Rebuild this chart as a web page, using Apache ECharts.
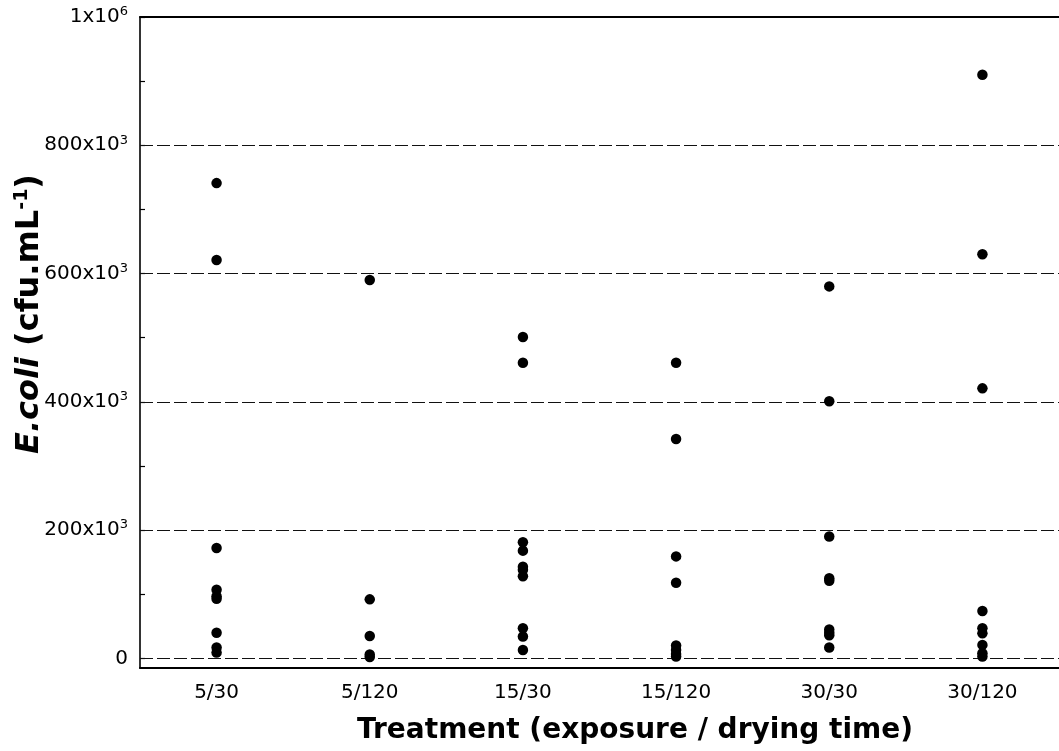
<!DOCTYPE html>
<html>
<head>
<meta charset="utf-8">
<script src="https://cdn.jsdelivr.net/npm/echarts@6/dist/echarts.min.js"></script>
<style>html,body{margin:0;padding:0;background:#fff}#c{width:1059px;height:751px}</style>
</head>
<body>
<div id="c"></div>
<script>
var categories = ['5/30', '5/120', '15/30', '15/120', '30/30', '30/120'];
var t5_30   = [741000, 621000, 172000, 107000, 97000, 93000, 40000, 17000, 9000];
var t5_120  = [590000, 92000, 35000, 6000, 2000];
var t15_30  = [501000, 461000, 181000, 168000, 143000, 138000, 128000, 47000, 34000, 13000];
var t15_120 = [461000, 342000, 159000, 118000, 20000, 13000, 7000, 3000];
var t30_30  = [580000, 401000, 190000, 125000, 121000, 45000, 40000, 36000, 17000];
var t30_120 = [910000, 630000, 421000, 74000, 47000, 39000, 21000, 8000, 3000];
var yLabelValues = [0, 200000, 400000, 600000, 800000, 1000000];
var yTickValues = [0, 100000, 200000, 300000, 400000, 500000, 600000, 700000, 800000, 900000, 1000000];
var gridValues = [0, 200000, 400000, 600000, 800000];

var groups = [t5_30, t5_120, t15_30, t15_120, t30_30, t30_120];
var points = [];
groups.forEach(function (g, i) { g.forEach(function (v) { points.push([i, v]); }); });

var FONT = 'DejaVu Sans';
var chart = echarts.init(document.getElementById('c'), null, {renderer: 'canvas'});
chart.setOption({
  animation: false,
  backgroundColor: '#fff',
  grid: {left: 140, top: 17, width: 927, bottom: 83, containLabel: false},
  xAxis: [{
    type: 'category',
    data: categories,
    position: 'bottom',
    boundaryGap: true,
    axisLine: {onZero: false, lineStyle: {color: '#000', width: 2.2}},
    axisTick: {inside: true, alignWithLabel: true, length: 8, lineStyle: {color: '#000', width: 1.5}},
    axisLabel: {color: '#000', fontFamily: FONT, fontSize: 20, margin: 15},
    splitLine: {show: false}
  }, {
    type: 'category',
    data: categories,
    position: 'top',
    boundaryGap: true,
    axisLine: {onZero: false, lineStyle: {color: '#000', width: 2}},
    axisTick: {inside: true, alignWithLabel: true, length: 8, lineStyle: {color: '#000', width: 1.5}},
    axisLabel: {show: false},
    splitLine: {show: false}
  }],
  yAxis: {
    type: 'value',
    min: -15000,
    max: 1000000,
    axisLine: {show: true, lineStyle: {color: '#000', width: 1.6}},
    axisTick: {show: true, inside: true, length: 5, customValues: yTickValues, lineStyle: {color: '#000', width: 1.2}},
    axisLabel: {
      customValues: yLabelValues,
      margin: 12,
      color: '#000',
      fontFamily: FONT,
      fontSize: 20,
      formatter: function (v) {
        if (v === 0) return '{n|0}';
        if (v >= 1000000) return '{n|' + (v / 1000000) + 'x10}{s|6}';
        return '{n|' + (v / 1000) + 'x10}{s|3}';
      },
      rich: {
        n: {fontFamily: FONT, fontSize: 20, color: '#000'},
        s: {fontFamily: FONT, fontSize: 13, color: '#000', padding: [0, 0, 10, 0]}
      }
    },
    splitLine: {show: false}
  },
  series: [{
    type: 'scatter',
    xAxisIndex: 0,
    data: points,
    symbol: 'circle',
    symbolSize: 10.5,
    itemStyle: {color: '#000', opacity: 1},
    markLine: {
      silent: true,
      symbol: ['none', 'none'],
      label: {show: false},
      lineStyle: {color: '#111', width: 1, type: [13, 4], opacity: 1},
      data: gridValues.map(function (v) { return {yAxis: v}; }),
      z: 1
    },
    z: 3
  }],
  graphic: [{
    type: 'text',
    x: 635, y: 731,
    style: {
      text: 'Treatment (exposure / drying time)',
      fontFamily: FONT, fontWeight: 'bold', fontSize: 28, fill: '#000',
      align: 'center', verticalAlign: 'middle'
    }
  }, {
    type: 'text',
    x: 30, y: 314,
    rotation: Math.PI / 2,
    style: {
      text: '{i|E.coli}{b| (cfu.mL}{s|-1}{b|)}',
      align: 'center', verticalAlign: 'middle',
      fill: '#000',
      rich: {
        i: {fontFamily: FONT, fontWeight: 'bold', fontStyle: 'italic', fontSize: 32, fill: '#000'},
        b: {fontFamily: FONT, fontWeight: 'bold', fontSize: 32, fill: '#000'},
        s: {fontFamily: FONT, fontWeight: 'bold', fontSize: 19, fill: '#000', padding: [0, 0, 15, 0]}
      }
    }
  }]
});
</script>
</body>
</html>
